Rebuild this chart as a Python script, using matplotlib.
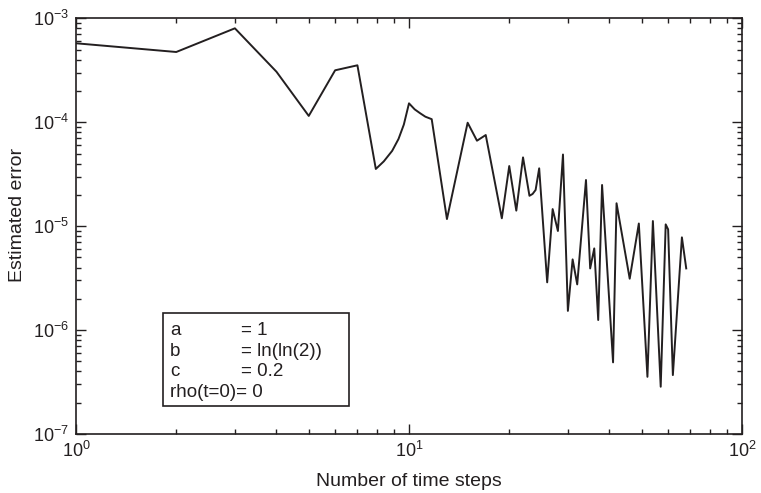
import matplotlib
matplotlib.use("Agg")
import matplotlib.pyplot as plt
from matplotlib.patches import Rectangle
from matplotlib.ticker import LogLocator, NullFormatter

# ---- data ----
steps = [1, 2, 3, 4, 5, 6, 7, 7.95, 8.4, 8.9, 9.3, 9.65, 10, 10.4, 10.8, 11.2, 11.7,
         13, 15, 16, 17,
         19, 20, 21, 22, 23, 23.5, 24, 24.6, 26, 27, 28, 29, 30, 31, 32, 34, 35,
         36, 37, 38, 41, 42, 46, 49, 52, 54, 57, 59, 60, 62, 66, 68]
error = [5.75e-4, 4.74e-4, 8.01e-4, 3.06e-4, 1.15e-4, 3.16e-4, 3.53e-4, 3.55e-5,
         4.2e-5, 5.3e-5, 6.9e-5, 9.5e-5, 1.52e-4, 1.33e-4, 1.22e-4, 1.13e-4,
         1.07e-4, 1.17e-5,
         9.89e-5, 6.64e-5, 7.53e-5, 1.19e-5, 3.79e-5, 1.41e-5, 4.59e-5, 1.96e-5,
         2.04e-5, 2.23e-5, 3.60e-5, 2.88e-6, 1.46e-5, 8.98e-6, 4.89e-5, 1.53e-6,
         4.79e-6, 2.75e-6, 2.78e-5, 3.92e-6, 6.11e-6, 1.25e-6, 2.49e-5, 4.89e-7,
         1.66e-5, 3.12e-6, 1.06e-5, 3.55e-7, 1.12e-5, 2.85e-7, 1.04e-5, 9.31e-6,
         3.69e-7, 7.80e-6, 3.92e-6]

legend_names = ["a", "b", "c"]
legend_values = ["= 1", "= ln(ln(2))", "= 0.2"]
legend_last = "rho(t=0)= 0"

xlabel = "Number of time steps"
ylabel = "Estimated error"

# ---- style ----
plt.rcParams["font.family"] = ["Liberation Sans", "DejaVu Sans"]
plt.rcParams["mathtext.fontset"] = "custom"
plt.rcParams["mathtext.rm"] = "Liberation Sans"
plt.rcParams["mathtext.it"] = "Liberation Sans:italic"
plt.rcParams["mathtext.bf"] = "Liberation Sans:bold"

W, H = 761, 493
fig = plt.figure(figsize=(W / 100, H / 100), dpi=100)
L, R, T, B = 76, 742, 18.3, 434
ax = fig.add_axes([L / W, 1 - B / H, (R - L) / W, (B - T) / H])

ink = "#231f20"
ax.plot(steps, error, color=ink, lw=1.4)
ax.set_xscale("log")
ax.set_yscale("log")
ax.set_xlim(1, 100)
ax.set_ylim(1e-7, 1e-3)

ax.xaxis.set_major_locator(LogLocator(base=10, numticks=10))
ax.yaxis.set_major_locator(LogLocator(base=10, numticks=10))
ax.xaxis.set_minor_locator(LogLocator(base=10, subs=range(2, 10), numticks=20))
ax.yaxis.set_minor_locator(LogLocator(base=10, subs=range(2, 10), numticks=20))
ax.xaxis.set_minor_formatter(NullFormatter())
ax.yaxis.set_minor_formatter(NullFormatter())

ax.tick_params(which="both", direction="in", top=True, right=True,
               color=ink, width=1.0)
ax.tick_params(which="major", length=7, labelsize=13, labelcolor=ink, pad=5)
ax.tick_params(which="minor", length=3.8)
for s in ax.spines.values():
    s.set_linewidth(1.2)
    s.set_color(ink)

# axis titles
fig.text(408.5 / W, 1 - 481 / H, xlabel, fontsize=14, color=ink,
         ha="center", va="center")
fig.text(17.5 / W, 1 - 214.5 / H, ylabel, fontsize=14, color=ink,
         ha="center", va="center", rotation=90)

# ---- parameter box ----
bx0, bx1, by0, by1 = 163.3, 349, 312.7, 406
fig.patches.append(Rectangle((bx0 / W, 1 - by1 / H), (bx1 - bx0) / W,
                             (by1 - by0) / H, transform=fig.transFigure,
                             fill=False, edgecolor=ink, lw=1.2))
baselines = [335, 355.5, 376, 397]
for i, (nm, val) in enumerate(zip(legend_names, legend_values)):
    fig.text(170 / W, 1 - baselines[i] / H, nm, fontsize=13.5, color=ink,
             va="baseline", ha="left")
    fig.text(241 / W, 1 - baselines[i] / H, val, fontsize=13.5, color=ink,
             va="baseline", ha="left")
fig.text(170 / W, 1 - baselines[3] / H, legend_last, fontsize=13.5, color=ink,
         va="baseline", ha="left")

fig.savefig("out.png", dpi=100)
